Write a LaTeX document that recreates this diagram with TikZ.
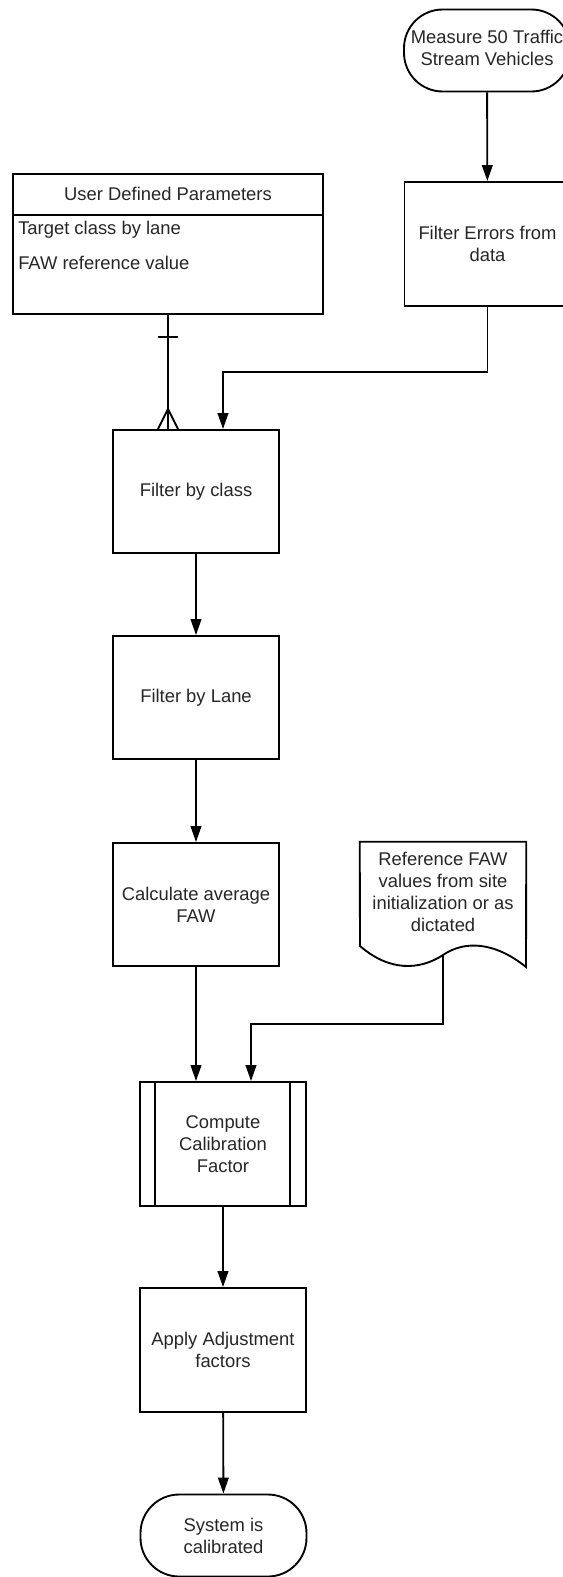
\documentclass[tikz,border=0pt]{standalone}
\usepackage{fontspec}
\setmainfont{Liberation Sans}
\usetikzlibrary{arrows.meta,calc}
\begin{document}
\begin{tikzpicture}[x=0.75pt,y=-0.75pt,
  every node/.style={font=\fontsize{13.8pt}{16.4pt}\selectfont, text=black!85},
  line/.style={line width=1.4pt, draw=black},
  flow/.style={line, -{Triangle[length=12pt,width=8pt]}},
  procbox/.style={line, rectangle, inner sep=0pt, align=center,
    minimum width=166*0.75pt, minimum height=123*0.75pt},
  terminal/.style={line, rectangle, rounded corners=29pt, inner sep=0pt, align=center,
    minimum width=166*0.75pt, minimum height=82*0.75pt},
  plain/.style={inner sep=0pt, align=center}]
\useasboundingbox (0,0) rectangle (562,1577);

% start and input processing
\node[terminal] (measure) at (487,50.5) {\raisebox{3pt}{\begin{tabular}{@{}c@{}}Measure 50 Traffic\\Stream Vehicles\end{tabular}}};
\node[procbox, minimum height=124*0.75pt] (errors) at (487.5,244) {Filter Errors from\\data};

% parameter entity
\node[line, rectangle, inner sep=0pt, minimum width=310*0.75pt, minimum height=140*0.75pt] (udp) at (168,244) {};
\draw[line] (13,215) -- (323,215);
\node[plain] (udphead) at (168,194) {User Defined Parameters};
\node[plain, anchor=west] (udpa) at (18,230) {Target class by lane};
\node[plain, anchor=west] (udpb) at (18,263) {FAW reference value};

% main chain
\node[procbox] (class) at (196,491.5) {Filter by class};
\node[procbox] (lane) at (196,697.5) {Filter by Lane};
\node[procbox] (calc) at (196,904.5) {Calculate average\\FAW};

% reference document
\node[plain, minimum width=166*0.75pt, minimum height=125*0.75pt] (ref) at (443,904.5) {};
\node[plain] (reftext) at (443,892) {Reference FAW\\values from site\\initialization or as\\dictated};
\draw[line] (ref.north west) -- (ref.north east) -- (526,967)
  .. controls (495,942) and (465,940) .. (443,955)
  .. controls (420,970) and (390,972) .. (360,946) -- cycle;
\coordinate (refout) at (443,955);

% predefined process
\node[procbox, minimum height=124*0.75pt] (compute) at (223,1144) {Compute\\Calibration\\Factor};
\draw[line] ($(compute.north west)+(16,0)$) -- ($(compute.south west)+(16,0)$);
\draw[line] ($(compute.north east)+(-17,0)$) -- ($(compute.south east)+(-17,0)$);

\node[procbox, minimum height=124*0.75pt] (apply) at (223,1350) {Apply Adjustment\\factors};
\node[terminal] (done) at (223.5,1535.5) {System is\\calibrated};

% connectors
\draw[flow] (measure) -- (errors);
\draw[flow] (errors.south) -- (487.5,372) -- (223,372) -- (223,372 |- class.north);
\draw[line] (udp.south) -- (udp.south |- class.north);
\draw[line] ($(udp.south)+(-10,22)$) -- ($(udp.south)+(10,22)$);
\draw[line] ($(udp.south |- class.north)+(0,-20)$) -- ($(udp.south |- class.north)+(-10,0)$);
\draw[line] ($(udp.south |- class.north)+(0,-20)$) -- ($(udp.south |- class.north)+(10,0)$);
\draw[flow] (class) -- (lane);
\draw[flow] (lane) -- (calc);
\draw[flow] (calc.south) -- (calc.south |- compute.north);
\draw[flow] (refout) -- (443,1024) -- (251,1024) -- (251,1024 |- compute.north);
\draw[flow] (compute) -- (apply);
\draw[flow] (apply) -- (done);
\end{tikzpicture}
\end{document}
